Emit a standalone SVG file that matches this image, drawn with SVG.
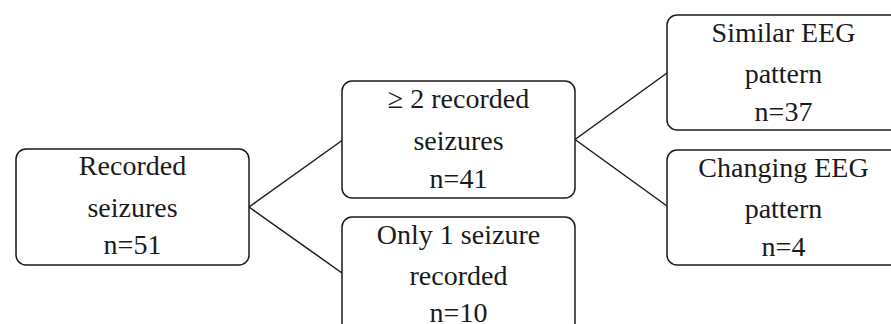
<svg xmlns="http://www.w3.org/2000/svg" width="891" height="324" viewBox="0 0 891 324">
<style>
.box{fill:#ffffff;stroke:#1a1a1a;stroke-width:1.5}
.t{font-family:"Liberation Serif","Times New Roman",serif;font-size:28px;fill:#1a1a1a;text-anchor:middle}
.c{stroke:#1a1a1a;stroke-width:1.5;fill:none}
</style>
<rect width="891" height="324" fill="#ffffff"/>
<g id="connectors">
<line class="c" x1="249" y1="207" x2="342" y2="140.5"/>
<line class="c" x1="249" y1="207" x2="342" y2="273"/>
<line class="c" x1="575" y1="139.5" x2="667" y2="73"/>
<line class="c" x1="575" y1="139.5" x2="667" y2="206"/>
</g>
<g id="recorded">
<rect class="box" x="16" y="149" width="233" height="116" rx="10"/>
<text class="t" x="132.5" y="175">Recorded</text>
<text class="t" x="132.5" y="217">seizures</text>
<text class="t" x="132.5" y="254">n=51</text>
</g>
<g id="multiple">
<rect class="box" x="342" y="81" width="233" height="117" rx="10"/>
<text class="t" x="458.5" y="108">≥ 2 recorded</text>
<text class="t" x="458.5" y="150">seizures</text>
<text class="t" x="458.5" y="188">n=41</text>
</g>
<g id="single">
<rect class="box" x="342" y="217" width="233" height="116" rx="10"/>
<text class="t" x="458.5" y="244">Only 1 seizure</text>
<text class="t" x="458.5" y="285">recorded</text>
<text class="t" x="458.5" y="322">n=10</text>
</g>
<g id="similar">
<rect class="box" x="667" y="15" width="233" height="115" rx="10"/>
<text class="t" x="783.5" y="42">Similar EEG</text>
<text class="t" x="783.5" y="83">pattern</text>
<text class="t" x="783.5" y="121">n=37</text>
</g>
<g id="changing">
<rect class="box" x="667" y="150" width="233" height="115" rx="10"/>
<text class="t" x="783.5" y="177">Changing EEG</text>
<text class="t" x="783.5" y="218">pattern</text>
<text class="t" x="783.5" y="256">n=4</text>
</g>
</svg>
